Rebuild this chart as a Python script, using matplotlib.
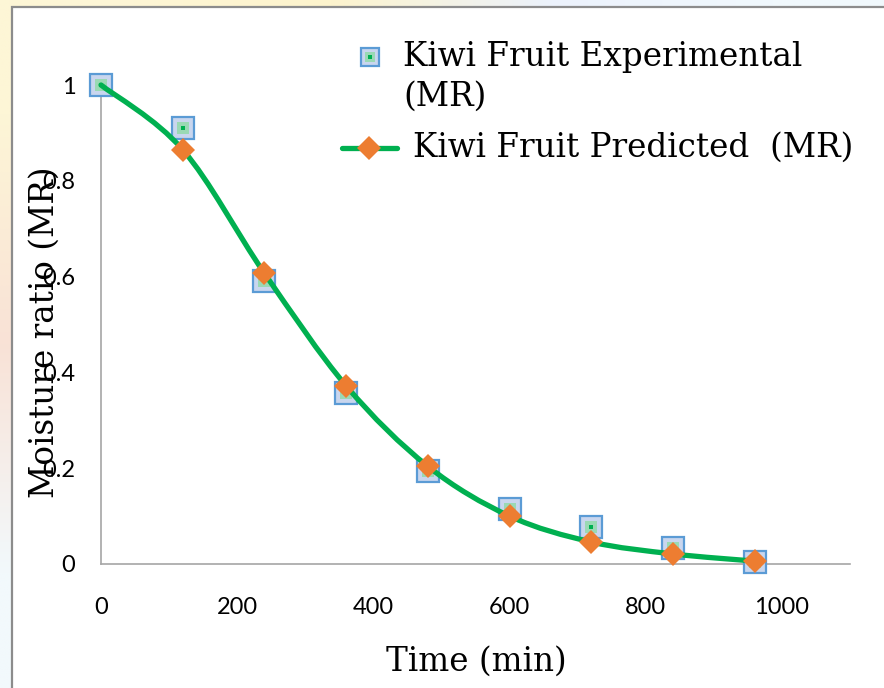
import numpy as np
import matplotlib
matplotlib.use("Agg")
import matplotlib.pyplot as plt
from matplotlib.path import Path
from matplotlib.patches import PathPatch, Rectangle

# drying data, kiwi fruit
time_min = [0, 120, 240, 360, 480, 600, 720, 840, 960]
mr_experimental = [1.0, 0.911, 0.590, 0.356, 0.195, 0.114, 0.077, 0.033, 0.005]
mr_predicted = [1.0, 0.865, 0.607, 0.372, 0.204, 0.100, 0.046, 0.021, 0.006]

x_ticks = [0, 200, 400, 600, 800, 1000]
y_ticks = [0, 0.2, 0.4, 0.6, 0.8, 1.0]
y_tick_labels = ["0", "0.2", "0.4", "0.6", "0.8", "1"]

label_exp = "Kiwi Fruit Experimental\n(MR)"
label_pred = "Kiwi Fruit Predicted  (MR)"

W, H = 884, 688
GREEN = "#00B050"
ORANGE = "#ED7D31"
BLUE_EDGE = "#5B9BD5"
BLUE_FACE = "#C9D6EE"
SERIF = "DejaVu Serif"
SANS = "Lato"


def px(x, y):
    # pixel position -> figure fraction
    return x / W, 1 - y / H


def smooth_path(xs, ys):
    # excel style smoothed line: catmull-rom turned into cubic bezier
    pts = list(zip(xs, ys))
    verts = [pts[0]]
    codes = [Path.MOVETO]
    n = len(pts)
    for i in range(n - 1):
        p0 = pts[max(i - 1, 0)]
        p1 = pts[i]
        p2 = pts[i + 1]
        p3 = pts[min(i + 2, n - 1)]
        c1 = (p1[0] + (p2[0] - p0[0]) / 6, p1[1] + (p2[1] - p0[1]) / 6)
        c2 = (p2[0] - (p3[0] - p1[0]) / 6, p2[1] - (p3[1] - p1[1]) / 6)
        verts += [c1, c2, p2]
        codes += [Path.CURVE4] * 3
    return Path(verts, codes)


def square_marker(ax, xs, ys, size, **kw):
    # blue box with a small green centre, like the excel picture marker
    ax.plot(xs, ys, linestyle="none", marker="s", markersize=size,
            markerfacecolor=BLUE_FACE, markeredgecolor=BLUE_EDGE,
            markeredgewidth=1.6, clip_on=False, zorder=3, **kw)
    ax.plot(xs, ys, linestyle="none", marker="s", markersize=size * 0.5,
            markerfacecolor="#9ad9b4", markeredgewidth=0, clip_on=False,
            zorder=3.1, **kw)
    ax.plot(xs, ys, linestyle="none", marker="s", markersize=size * 0.2,
            markerfacecolor=GREEN, markeredgewidth=0, clip_on=False,
            zorder=3.2, **kw)


fig = plt.figure(figsize=(W / 100, H / 100), dpi=100)

# faint coloured page behind the chart frame
bg = fig.add_axes([0, 0, 1, 1], zorder=-10)
bg_colors = np.array([
    [[253, 246, 214], [253, 244, 205], [236, 242, 252], [240, 248, 252]],
    [[249, 226, 214], [252, 252, 250], [255, 255, 255], [255, 255, 255]],
    [[242, 249, 252], [255, 255, 255], [255, 255, 255], [255, 255, 255]],
]) / 255.0
bg.imshow(bg_colors, aspect="auto", interpolation="bilinear", extent=[0, 1, 0, 1])
bg.axis("off")

x0, y0 = px(12, H + 5)
x1, y1 = px(W + 5, 7)
fig.patches.append(Rectangle((x0, y0), x1 - x0, y1 - y0, transform=fig.transFigure,
                             facecolor="white", edgecolor="#8c8c8c", linewidth=1.6,
                             zorder=-5))

left, top = px(101, 85)
right, bottom = px(850, 564)
ax = fig.add_axes([left, bottom, right - left, top - bottom])
ax.set_facecolor("none")

ax.set_xlim(0, 1100)
ax.set_ylim(0, 1)

for side in ["top", "right"]:
    ax.spines[side].set_visible(False)
for side in ["left", "bottom"]:
    ax.spines[side].set_color("#a6a6a6")
    ax.spines[side].set_linewidth(1.2)

ax.set_xticks(x_ticks)
ax.set_yticks(y_ticks)
ax.set_yticklabels(y_tick_labels)
ax.tick_params(axis="both", length=0, labelsize=17, colors="black")
ax.tick_params(axis="y", pad=18.5)
ax.tick_params(axis="x", pad=24)
for lab in ax.get_xticklabels() + ax.get_yticklabels():
    lab.set_fontfamily(SANS)

# experimental squares
square_marker(ax, time_min, mr_experimental, 16)

# predicted smoothed line with diamonds
ax.add_patch(PathPatch(smooth_path(time_min, mr_predicted), facecolor="none",
                       edgecolor=GREEN, linewidth=3.8, capstyle="round",
                       clip_on=False, zorder=4))
ax.plot(time_min[1:], mr_predicted[1:], linestyle="none", marker="D", markersize=12.5,
        markerfacecolor=ORANGE, markeredgewidth=0, clip_on=False, zorder=5)

# axis titles
fig.text(*px(476, 662), "Time (min)", family=SERIF, fontsize=23.5,
         ha="center", va="center")
fig.text(*px(45, 332), "Moisture ratio (MR)", family=SERIF, fontsize=23.5,
         rotation=90, ha="center", va="center")

# legend, drawn by hand to match the wrapped first entry
lx, ly = px(370, 57)
square_marker(ax, [lx], [ly], 13, transform=fig.transFigure)
fig.text(*px(403, 57), label_exp.split("\n")[0], family=SERIF, fontsize=23.5,
         ha="left", va="center")
fig.text(*px(403, 97), label_exp.split("\n")[1], family=SERIF, fontsize=23.5,
         ha="left", va="center")
ax_a, ay_a = px(342, 148)
ax_b, _ = px(397, 148)
lmx, _ = px(369, 148)
ax.plot([ax_a, ax_b], [ay_a, ay_a], transform=fig.transFigure, clip_on=False,
        color=GREEN, linewidth=3.8, solid_capstyle="round", zorder=4)
ax.plot([lmx], [ay_a], transform=fig.transFigure, clip_on=False, marker="D",
        markersize=12.5, markerfacecolor=ORANGE, markeredgewidth=0, zorder=5)
fig.text(*px(413, 148), label_pred, family=SERIF, fontsize=23.5,
         ha="left", va="center")

ax.set_xlim(0, 1100)
ax.set_ylim(0, 1)

fig.savefig("out.png", dpi=100)
